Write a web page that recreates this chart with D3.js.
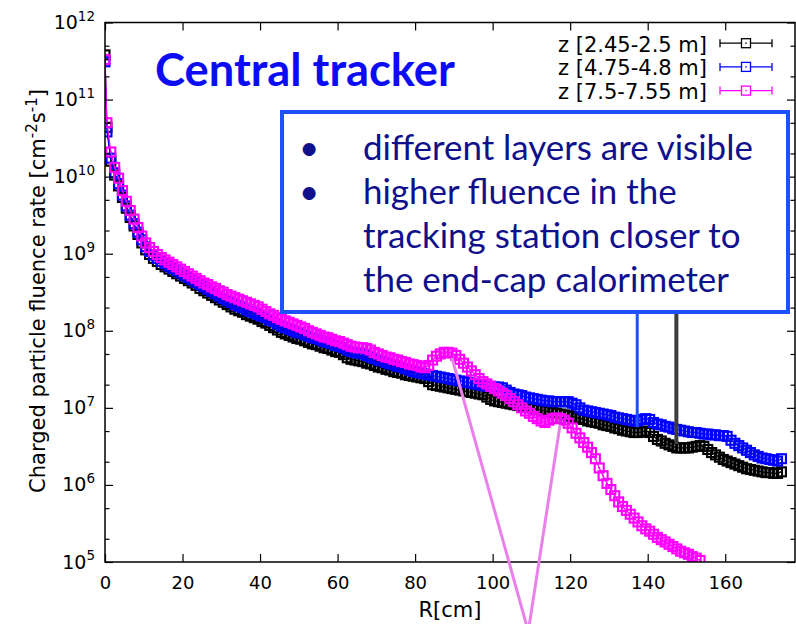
<!DOCTYPE html>
<html>
<head>
<meta charset="utf-8">
<script src="https://cdn.jsdelivr.net/npm/d3@7"></script>
<style>
  html, body { margin: 0; padding: 0; background: #fff; }
  svg { display: block; }
</style>
</head>
<body>
<svg id="chart" width="796" height="624"></svg>
<script>
// ---------------------------------------------------------------------------
// Charged particle fluence rate vs. radius, three z slices of the tracker.
// Rates are stored as log10(rate / cm^-2 s^-1), one value per radial bin.
// ---------------------------------------------------------------------------

// radial bins (cm): the axis point at R = 0, then 1 cm bins centred on half-integers
const radiusBins = [0, 0.5, ...d3.range(1.5, 175, 1)];

const seriesLabels = ["z [2.45-2.5 m]", "z [4.75-4.8 m]", "z [7.5-7.55 m]"];
const seriesColors = ["#000000", "#0000ff", "#ff00ff"];

const logRateZ245 = [
  11.58, 10.64, 10.20, 10.02, 9.88, 9.73, 9.59, 9.47, 9.36, 9.25, 9.14,
  9.05, 8.99, 8.94, 8.90, 8.86, 8.83, 8.80, 8.77, 8.74, 8.71,
  8.68, 8.65, 8.62, 8.59, 8.55, 8.52, 8.49, 8.46, 8.43, 8.40,
  8.37, 8.34, 8.31, 8.28, 8.26, 8.24, 8.21, 8.19, 8.17, 8.15,
  8.12, 8.10, 8.07, 8.04, 8.01, 7.98, 7.96, 7.94, 7.92, 7.90,
  7.89, 7.87, 7.85, 7.83, 7.82, 7.80, 7.78, 7.77, 7.75, 7.73,
  7.72, 7.69, 7.65, 7.63, 7.62, 7.61, 7.60, 7.58, 7.57, 7.55,
  7.53, 7.52, 7.50, 7.49, 7.47, 7.46, 7.45, 7.43, 7.42, 7.41,
  7.40, 7.39, 7.38, 7.34, 7.30, 7.29, 7.28, 7.27, 7.26, 7.25,
  7.24, 7.23, 7.22, 7.21, 7.20, 7.19, 7.18, 7.17, 7.14, 7.11,
  7.09, 7.08, 7.07, 7.06, 7.05, 7.04, 7.03, 7.02, 7.01, 7.00,
  6.99, 6.98, 6.97, 6.96, 6.95, 6.94, 6.93, 6.92, 6.91, 6.90,
  6.89, 6.87, 6.86, 6.85, 6.83, 6.82, 6.81, 6.80, 6.78, 6.77,
  6.76, 6.74, 6.73, 6.71, 6.70, 6.69, 6.68, 6.68, 6.69, 6.70,
  6.68, 6.63, 6.59, 6.57, 6.54, 6.52, 6.50, 6.48, 6.48, 6.48,
  6.48, 6.49, 6.50, 6.51, 6.50, 6.46, 6.42, 6.39, 6.36, 6.33,
  6.31, 6.29, 6.27, 6.25, 6.23, 6.21, 6.20, 6.19, 6.18, 6.17,
  6.16, 6.16, 6.15, 6.15, 6.17
];

const logRateZ475 = [
  11.49, 10.58, 10.24, 10.05, 9.91, 9.76, 9.62, 9.50, 9.39, 9.28, 9.18,
  9.09, 9.03, 8.98, 8.94, 8.90, 8.87, 8.84, 8.81, 8.78, 8.75,
  8.72, 8.69, 8.66, 8.63, 8.60, 8.57, 8.54, 8.51, 8.48, 8.45,
  8.42, 8.39, 8.37, 8.34, 8.32, 8.30, 8.27, 8.25, 8.23, 8.21,
  8.19, 8.17, 8.14, 8.12, 8.09, 8.06, 8.04, 8.02, 8.00, 7.98,
  7.97, 7.95, 7.93, 7.91, 7.90, 7.88, 7.86, 7.85, 7.83, 7.81,
  7.80, 7.78, 7.75, 7.73, 7.72, 7.71, 7.70, 7.68, 7.66, 7.64,
  7.62, 7.61, 7.59, 7.57, 7.56, 7.54, 7.53, 7.51, 7.49, 7.47,
  7.46, 7.45, 7.44, 7.43, 7.42, 7.41, 7.40, 7.39, 7.38, 7.37,
  7.36, 7.35, 7.34, 7.33, 7.32, 7.31, 7.30, 7.29, 7.28, 7.28,
  7.27, 7.27, 7.26, 7.23, 7.20, 7.18, 7.17, 7.16, 7.14, 7.13,
  7.12, 7.11, 7.10, 7.09, 7.09, 7.08, 7.08, 7.08, 7.08, 7.08,
  7.06, 7.04, 7.00, 6.97, 6.96, 6.95, 6.94, 6.93, 6.92, 6.91,
  6.90, 6.88, 6.87, 6.86, 6.85, 6.84, 6.83, 6.83, 6.85, 6.86,
  6.85, 6.81, 6.79, 6.78, 6.76, 6.75, 6.73, 6.72, 6.71, 6.70,
  6.69, 6.68, 6.68, 6.67, 6.66, 6.66, 6.65, 6.65, 6.64, 6.64,
  6.63, 6.58, 6.54, 6.51, 6.48, 6.45, 6.42, 6.39, 6.37, 6.35,
  6.34, 6.33, 6.32, 6.31, 6.34
];

const logRateZ750 = [
  11.52, 10.70, 10.32, 10.12, 9.98, 9.82, 9.68, 9.56, 9.45, 9.34, 9.23,
  9.14, 9.08, 9.03, 8.99, 8.95, 8.92, 8.89, 8.86, 8.83, 8.80,
  8.77, 8.74, 8.71, 8.68, 8.65, 8.62, 8.60, 8.57, 8.55, 8.52,
  8.50, 8.47, 8.45, 8.43, 8.41, 8.39, 8.37, 8.35, 8.33, 8.31,
  8.28, 8.25, 8.22, 8.20, 8.17, 8.15, 8.13, 8.11, 8.09, 8.07,
  8.05, 8.03, 8.00, 7.98, 7.96, 7.94, 7.92, 7.91, 7.89, 7.87,
  7.86, 7.84, 7.82, 7.80, 7.79, 7.78, 7.78, 7.77, 7.75, 7.72,
  7.70, 7.68, 7.66, 7.65, 7.63, 7.62, 7.60, 7.59, 7.57, 7.56,
  7.55, 7.53, 7.52, 7.55, 7.62, 7.67, 7.70, 7.72, 7.72, 7.71,
  7.68, 7.63, 7.58, 7.53, 7.48, 7.43, 7.38, 7.34, 7.31, 7.28,
  7.25, 7.22, 7.19, 7.16, 7.12, 7.08, 7.04, 7.00, 6.96, 6.93,
  6.89, 6.86, 6.83, 6.81, 6.84, 6.86, 6.87, 6.86, 6.84, 6.80,
  6.74, 6.67, 6.61, 6.55, 6.49, 6.42, 6.34, 6.22, 6.12, 6.02,
  5.94, 5.86, 5.78, 5.72, 5.67, 5.62, 5.57, 5.52, 5.47, 5.43,
  5.40, 5.36, 5.32, 5.29, 5.26, 5.23, 5.20, 5.17, 5.14, 5.12,
  5.10, 5.07, 5.05, 5.02
];

const xTickValues = [0, 20, 40, 60, 80, 100, 120, 140, 160];
const yDecades = [5, 6, 7, 8, 9, 10, 11, 12];
const yMinorMultipliers = [2, 5];

const titleText = "Central tracker";
const noteLines = [
  "different layers are visible",
  "higher fluence in the",
  "tracking station closer to",
  "the end-cap calorimeter"
];
const noteBullets = [true, true, false, false];

// annotation arrows, in data units (R in cm, log10 rate)
const pointerBlue = { r: 137.3, logRate: 6.75 };
const pointerGrey = { r: 147.4, logRate: 6.53 };
const peakMarker = [[89.5, 7.65], [109.2, 4.1], [117.4, 6.78]];

// ---------------------------------------------------------------------------
const svg = d3.select("#chart");
const plot = { left: 105, right: 795, top: 22.5, bottom: 562 };
const gpFont = "'DejaVu Sans', 'Liberation Sans', sans-serif";
const noteFont = "Lato, 'Open Sans', sans-serif";

const x = d3.scaleLinear().domain([0, 178]).range([plot.left, plot.right]);
const y = d3.scaleLog().domain([1e5, 1e12]).range([plot.bottom, plot.top]);

const series = [logRateZ245, logRateZ475, logRateZ750].map((arr, i) => ({
  label: seriesLabels[i],
  color: seriesColors[i],
  points: arr.map((e, j) => ({ r: radiusBins[j], v: Math.pow(10, e) }))
}));

svg.append("rect").attr("width", 796).attr("height", 624).attr("fill", "#fff");

svg.append("clipPath").attr("id", "plotClip")
  .append("rect")
  .attr("x", plot.left).attr("y", plot.top)
  .attr("width", plot.right - plot.left).attr("height", plot.bottom - plot.top);

// ---- data ----------------------------------------------------------------
const dataLayer = svg.append("g").attr("clip-path", "url(#plotClip)");
const line = d3.line().x(d => x(d.r)).y(d => y(d.v));
const box = 9;

series.forEach(s => {
  const g = dataLayer.append("g");
  g.append("path").datum(s.points)
    .attr("d", line).attr("fill", "none")
    .attr("stroke", s.color).attr("stroke-width", 1.2);
  g.selectAll("rect.pt").data(s.points).join("rect")
    .attr("class", "pt")
    .attr("x", d => x(d.r) - box / 2).attr("y", d => y(d.v) - box / 2)
    .attr("width", box).attr("height", box)
    .attr("fill", "none").attr("stroke", s.color).attr("stroke-width", 2.1);
  g.selectAll("rect.dot").data(s.points).join("rect")
    .attr("class", "dot")
    .attr("x", d => x(d.r) - 0.9).attr("y", d => y(d.v) - 0.9)
    .attr("width", 1.8).attr("height", 1.8)
    .attr("fill", s.color);
});

// ---- axes ----------------------------------------------------------------
const yMajor = yDecades.map(d => Math.pow(10, d));
const yMinor = [];
yDecades.slice(0, -1).forEach(d => yMinorMultipliers.forEach(m => yMinor.push(m * Math.pow(10, d))));

function styleAxis(g) {
  g.select(".domain").remove();
  g.selectAll(".tick line").attr("stroke", "#000").attr("stroke-width", 1.2);
}

const gx = svg.append("g")
  .attr("transform", `translate(0,${plot.bottom})`)
  .call(d3.axisBottom(x).tickValues(xTickValues).tickSizeInner(-8).tickSizeOuter(0).tickPadding(14))
  .attr("font-family", gpFont).attr("font-size", 18);
styleAxis(gx);
gx.selectAll("text").attr("fill", "#000");

svg.append("g")
  .attr("transform", `translate(0,${plot.top})`)
  .call(d3.axisTop(x).tickValues(xTickValues).tickSizeInner(-8).tickSizeOuter(0).tickFormat(""))
  .call(styleAxis);

[[d3.axisLeft, plot.left], [d3.axisRight, plot.right]].forEach(([axisFn, px]) => {
  svg.append("g").attr("transform", `translate(${px},0)`)
    .call(axisFn(y).tickValues(yMajor).tickSizeInner(-8).tickSizeOuter(0).tickFormat(""))
    .call(styleAxis);
  svg.append("g").attr("transform", `translate(${px},0)`)
    .call(axisFn(y).tickValues(yMinor).tickSizeInner(-4.5).tickSizeOuter(0).tickFormat(""))
    .call(styleAxis);
});

// decade labels 10^n
const yLab = svg.append("g").attr("font-family", gpFont).attr("fill", "#000");
yDecades.forEach(d => {
  const t = yLab.append("text")
    .attr("x", 95).attr("y", y(Math.pow(10, d)) + 6.5)
    .attr("text-anchor", "end").attr("font-size", 19);
  t.append("tspan").text("10");
  t.append("tspan").attr("dy", -8.5).attr("font-size", 13.5).text(String(d));
});

// frame
svg.append("rect")
  .attr("x", plot.left).attr("y", plot.top)
  .attr("width", plot.right - plot.left).attr("height", plot.bottom - plot.top)
  .attr("fill", "none").attr("stroke", "#000").attr("stroke-width", 1.5);

// axis titles
svg.append("text")
  .attr("x", 450).attr("y", 617)
  .attr("text-anchor", "middle")
  .attr("font-family", gpFont).attr("font-size", 21).attr("fill", "#000")
  .text("R[cm]");

const yTitle = svg.append("text")
  .attr("transform", "translate(45,291) rotate(-90)")
  .attr("text-anchor", "middle")
  .attr("font-family", gpFont).attr("font-size", 21).attr("fill", "#000");
yTitle.append("tspan").text("Charged particle fluence rate [cm");
yTitle.append("tspan").attr("dy", -8).attr("font-size", 15).text("-2");
yTitle.append("tspan").attr("dy", 8).text("s");
yTitle.append("tspan").attr("dy", -8).attr("font-size", 15).text("-1");
yTitle.append("tspan").attr("dy", 8).text("]");

// ---- legend --------------------------------------------------------------
const legend = svg.append("g").attr("font-family", gpFont).attr("font-size", 21);
series.forEach((s, i) => {
  const base = 51.5 + i * 23.7;
  const ly = base - 8.3;
  legend.append("text")
    .attr("x", 707).attr("y", base)
    .attr("text-anchor", "end").attr("fill", "#000")
    .text(s.label);
  const g = legend.append("g").attr("stroke", s.color).attr("stroke-width", 1.3);
  g.append("line").attr("x1", 720).attr("x2", 772).attr("y1", ly).attr("y2", ly);
  g.append("line").attr("x1", 720).attr("x2", 720).attr("y1", ly - 4).attr("y2", ly + 4);
  g.append("line").attr("x1", 772).attr("x2", 772).attr("y1", ly - 4).attr("y2", ly + 4);
  g.append("rect").attr("x", 741.5).attr("y", ly - 4.5).attr("width", 9).attr("height", 9)
    .attr("fill", "#fff");
  legend.append("rect").attr("x", 745.3).attr("y", ly - 0.7).attr("width", 1.4).attr("height", 1.4)
    .attr("fill", s.color);
});

// ---- annotations ---------------------------------------------------------
function fitFontSize(textSel, targetWidth) {
  textSel.attr("font-size", 40);
  const w = textSel.node().getComputedTextLength();
  const size = 40 * targetWidth / w;
  textSel.attr("font-size", size);
  return size;
}

const title = svg.append("text")
  .attr("x", 155).attr("y", 85.7)
  .attr("font-family", noteFont).attr("font-weight", 700)
  .attr("fill", "#0c0cf4")
  .text(titleText);
fitFontSize(title, 300);

// pointer lines from the note box down to the curves
svg.append("line")
  .attr("x1", x(pointerBlue.r)).attr("x2", x(pointerBlue.r))
  .attr("y1", 300).attr("y2", y(Math.pow(10, pointerBlue.logRate)))
  .attr("stroke", "#1f50ff").attr("stroke-width", 3);
svg.append("line")
  .attr("x1", x(pointerGrey.r)).attr("x2", x(pointerGrey.r))
  .attr("y1", 300).attr("y2", y(Math.pow(10, pointerGrey.logRate)))
  .attr("stroke", "#3d3d3d").attr("stroke-width", 4);

// V marker around the peak of the outermost slice
svg.append("path")
  .datum(peakMarker)
  .attr("d", d3.line().x(d => x(d[0])).y(d => y(Math.pow(10, d[1]))))
  .attr("fill", "none").attr("stroke", "#ea80ea").attr("stroke-width", 3)
  .attr("stroke-linejoin", "miter");

// note box
svg.append("rect")
  .attr("x", 282).attr("y", 112).attr("width", 506).attr("height", 200)
  .attr("fill", "#fff").attr("stroke", "#1f50ff").attr("stroke-width", 4);

const note = svg.append("g").attr("font-family", noteFont).attr("fill", "#10108c");
const firstLine = note.append("text").attr("x", 363).attr("y", 159.5).text(noteLines[0]);
const noteSize = fitFontSize(firstLine, 390);
noteLines.slice(1).forEach((t, i) => {
  note.append("text").attr("x", 363).attr("y", 159.5 + (i + 1) * 44.2)
    .attr("font-size", noteSize).text(t);
});
noteBullets.forEach((b, i) => {
  if (!b) return;
  note.append("text").attr("x", 309).attr("y", 159.5 + i * 44.2)
    .attr("text-anchor", "middle").attr("font-size", noteSize).text("\u2022");
});
</script>
</body>
</html>
